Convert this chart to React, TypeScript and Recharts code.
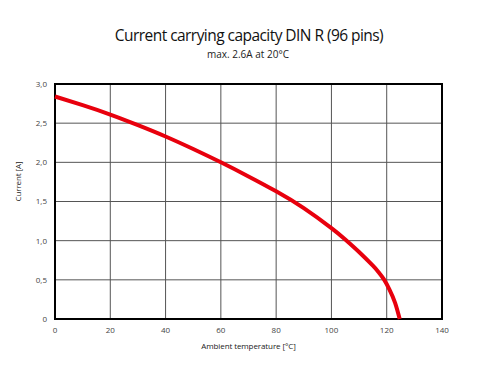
import { LineChart, Line, XAxis, YAxis, CartesianGrid, ReferenceArea } from 'recharts';

const temperature = [0, 10, 20, 30, 40, 50, 60, 70, 80, 90, 100, 105, 110, 115, 117, 119, 121, 123, 124.7];
const current = [2.84, 2.73, 2.61, 2.475, 2.33, 2.17, 2.0, 1.82, 1.63, 1.415, 1.16, 1.015, 0.855, 0.68, 0.6, 0.505, 0.375, 0.21, 0];
const xTicks = [0, 20, 40, 60, 80, 100, 120, 140];
const yTicks = [0, 0.5, 1, 1.5, 2, 2.5, 3];

const data = temperature.map((t, i) => ({ t, a: current[i] }));

const font = '"Open Sans", sans-serif';
const fmtY = (v: number) => (v === 0 ? '0' : v.toFixed(1).replace('.', ','));

export default function App() {
  return (
    <div style={{ position: 'absolute', left: 0, top: 0, width: 500, height: 385, background: '#fff', fontFamily: font }}>
      <div style={{ position: 'absolute', top: 24, left: 0, width: 498, textAlign: 'center', fontSize: 15.5, letterSpacing: -0.55, color: '#111' }}>
        Current carrying capacity DIN R (96 pins)
      </div>
      <div style={{ position: 'absolute', top: 47, left: 0, width: 496, textAlign: 'center', fontSize: 10, color: '#222' }}>
        max. 2.6A at 20°C
      </div>
      <LineChart
        width={500}
        height={385}
        data={data}
        margin={{ top: 84, right: 58, bottom: 36, left: 15 }}
        style={{ position: 'absolute', left: 0, top: 0 }}
      >
        <CartesianGrid stroke="#555" strokeWidth={1} />
        <XAxis
          dataKey="t"
          type="number"
          domain={[0, 140]}
          ticks={xTicks}
          height={30}
          tickLine={false}
          axisLine={false}
          tick={{ fontSize: 8, fill: '#444', fontFamily: font }}
          label={{ value: 'Ambient temperature [°C]', position: 'insideBottom', offset: 0, fontSize: 8, letterSpacing: -0.1, fill: '#222', fontFamily: font }}
        />
        <YAxis
          type="number"
          domain={[0, 3]}
          ticks={yTicks}
          width={40}
          tickLine={false}
          axisLine={false}
          tickFormatter={fmtY}
          tick={{ fontSize: 8, fill: '#444', fontFamily: font }}
          label={{ value: 'Current [A]', angle: -90, position: 'insideLeft', offset: 3, fontSize: 8, letterSpacing: -0.1, fill: '#222', fontFamily: font }}
        />
        <ReferenceArea x1={0} x2={140} y1={0} y2={3} fill="none" stroke="#000" strokeWidth={2} />
        <Line
          type="natural"
          dataKey="a"
          stroke="#e8000d"
          strokeWidth={4}
          dot={false}
          isAnimationActive={false}
        />
      </LineChart>
    </div>
  );
}
